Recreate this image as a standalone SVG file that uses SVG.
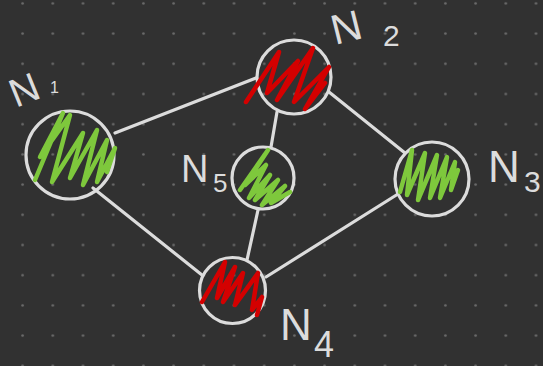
<svg xmlns="http://www.w3.org/2000/svg" width="543" height="366" viewBox="0 0 543 366">
  <defs>
    <pattern id="dots" x="7.5" y="-11.7" width="30.2" height="30.2" patternUnits="userSpaceOnUse">
      <circle cx="15.1" cy="15.1" r="1.3" fill="#6c6c6c"/>
    </pattern>
    <style>
      .edge { stroke: #dcdcdc; stroke-width: 3.2; stroke-linecap: round; fill: none; }
      .ring { stroke: #dcdcdc; stroke-width: 3.2; fill: none; }
      .green { stroke: #7ec83c; stroke-width: 4.5; fill: none; stroke-linejoin: round; stroke-linecap: round; }
      .red { stroke: #d40000; stroke-width: 4.5; fill: none; stroke-linejoin: round; stroke-linecap: round; }
      .lbl { fill: #dcdcdc; font-family: "Liberation Sans", "DejaVu Sans", sans-serif; }
    </style>
  </defs>

  <rect width="543" height="366" fill="#313131"/>
  <rect width="543" height="366" fill="url(#dots)"/>

  <!-- connectors -->
  <g id="edges">
    <line class="edge" x1="115" y1="133" x2="256" y2="78"/>
    <line class="edge" x1="329" y1="92" x2="405" y2="153"/>
    <line class="edge" x1="277" y1="112" x2="271" y2="147"/>
    <line class="edge" x1="258" y1="210" x2="247" y2="260"/>
    <line class="edge" x1="93" y1="188" x2="202" y2="275"/>
    <line class="edge" x1="266" y1="277" x2="398" y2="194"/>
  </g>

  <!-- N1 -->
  <g id="n1">
    <circle class="ring" cx="70" cy="155" r="44"/>
    <polyline class="green" points="35,180 63,113 40,157 70,115 52,182 83,133 70,178 97,130 83,185 107,140 97,182 115,148 107,172"/>
    <text class="lbl" transform="translate(16,108) rotate(-22)" font-size="40">N</text>
    <text class="lbl" x="50" y="93" font-size="16">1</text>
  </g>

  <!-- N2 -->
  <g id="n2">
    <circle class="ring" cx="294" cy="77" r="37"/>
    <polyline class="red" points="246,102 279,52 267,93 298,61 277,100 313,48 294,102 329,67 305,109 325,83"/>
    <text class="lbl" transform="translate(335,45) rotate(-14)" font-size="42">N</text>
    <text class="lbl" x="383" y="46" font-size="30">2</text>
  </g>

  <!-- N3 -->
  <g id="n3">
    <circle class="ring" cx="432" cy="179" r="37"/>
    <polyline class="green" points="400,192 412,150 407,195 425,153 418,200 437,155 430,198 447,157 440,198 455,162 451,190 458,170"/>
    <text class="lbl" x="488" y="182" font-size="44">N</text>
    <text class="lbl" x="524" y="192" font-size="30">3</text>
  </g>

  <!-- N4 -->
  <g id="n4">
    <circle class="ring" cx="232.5" cy="290.5" r="33"/>
    <polyline class="red" points="202,302 225,262 217,298 235,267 223,302 243,273 235,305 258,273 252,310 262,297 257,315"/>
    <text class="lbl" x="280" y="340" font-size="44">N</text>
    <text class="lbl" x="314" y="357" font-size="36">4</text>
  </g>

  <!-- N5 -->
  <g id="n5">
    <circle class="ring" cx="263" cy="178" r="31"/>
    <polyline class="green" points="240,190 268,150 245,185 266,165 249,198 270,175 255,200 278,180 262,205 285,186 271,203 290,192"/>
    <text class="lbl" x="181" y="182" font-size="38">N</text>
    <text class="lbl" x="213" y="192" font-size="26">5</text>
  </g>
</svg>
